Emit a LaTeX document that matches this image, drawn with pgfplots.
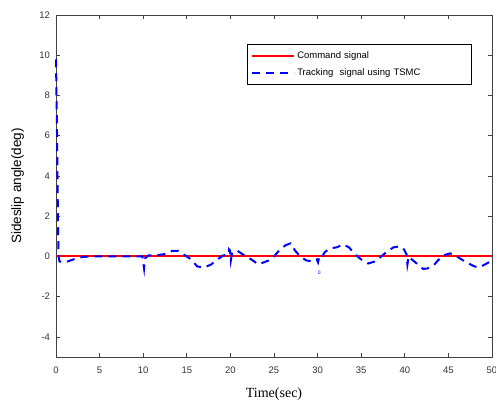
\documentclass[border=0pt]{standalone}
\usepackage{fontspec}
\setmainfont{Liberation Sans}
\newfontfamily\timesfont{Liberation Serif}
\usepackage{pgfplots}
\pgfplotsset{compat=1.18}

\pgfplotstableread{
t y
0 9.8
0.12 6
0.22 2
0.3 0
0.4 -0.25
1.0 -0.3
2.0 -0.15
3.0 -0.03
4 0
9.9 0
10.0 -0.3
10.1 -0.6
10.2 -0.1
10.6 0.05
11.5 0.05
12.5 0.12
13.3 0.27
14.0 0.28
14.8 0.05
15.5 -0.15
16.2 -0.5
17.0 -0.55
17.8 -0.4
18.5 -0.15
19.2 0.05
19.8 0.1
19.85 0.35
19.95 0.3
20.05 -0.2
20.2 0.2
20.8 0.28
21.6 0.05
22.4 -0.15
23.2 -0.4
23.8 -0.3
24.4 -0.2
25.0 0
25.6 0.3
26.3 0.55
26.9 0.65
27.4 0.3
28.0 0.0
28.7 -0.2
29.4 -0.25
29.9 -0.15
30.05 -0.3
30.2 0.0
30.5 -0.05
30.8 0.2
31.4 0.4
32.2 0.45
32.9 0.6
33.6 0.45
34.3 0.1
35.0 -0.15
35.8 -0.35
36.6 -0.25
37.3 0.0
38.0 0.25
38.7 0.45
39.4 0.5
39.9 0.35
40.2 0.1
40.3 -0.4
40.45 0.0
40.8 -0.15
41.5 -0.4
42.1 -0.62
42.6 -0.6
43.3 -0.45
43.8 -0.2
44.4 0.05
45.2 0.15
45.8 0.05
46.5 -0.15
47.3 -0.35
48.0 -0.5
48.5 -0.55
49.2 -0.4
50.0 -0.2
}\tracking

\begin{document}
\begin{tikzpicture}
\useasboundingbox (0,0) rectangle (496pt,402pt);
\begin{axis}[
    at={(56pt,45pt)}, anchor=south west,
    scale only axis,
    width=436pt, height=342pt,
    xmin=0, xmax=50, ymin=-5, ymax=12,
    xtick={0,5,...,50},
    ytick={-4,-2,...,12},
    tick align=inside,
    major tick length=4pt,
    axis line style={black!75, line width=0.7pt},
    tick style={black!75, line width=0.6pt},
    /pgf/number format/assume math mode=true,
    tick label style={font=\fontsize{9.5}{10}\selectfont, text=black!80},
    yticklabel style={xshift=-2.5pt},
    xticklabel style={yshift=-6pt},
    xlabel={\timesfont Time(sec)},
    ylabel={Sideslip angle(deg)},
    xlabel style={at={(axis description cs:0.5,-0.108)}, anchor=center, font=\fontsize{14}{16}\selectfont},
    ylabel style={at={(axis description cs:-0.088,0.5)}, anchor=center, font=\fontsize{13.5}{15}\selectfont},
    legend cell align=left,
    legend style={at={(0.438,0.915)}, anchor=north west, draw=black, line width=0.6pt,
        font=\fontsize{9.5}{11}\selectfont, inner xsep=4pt, inner ysep=5pt,
        row sep=5pt, nodes={text width=168pt}},
    legend image code/.code={\draw[#1] (0pt,0pt) -- (42pt,0pt);},
    clip=false,
]
\addplot[red, line width=2pt] coordinates {(0,0) (50,0)};
\addlegendentry{Command signal}
\addplot[blue, line width=2pt, dash pattern=on 8pt off 6pt] table[x=t,y=y] {\tracking};
\addlegendentry{Tracking~ signal using TSMC}
\node[blue, font=\fontsize{5}{6}\selectfont] at (axis cs:30.2,-0.8) {0};
\end{axis}
\end{tikzpicture}
\end{document}
